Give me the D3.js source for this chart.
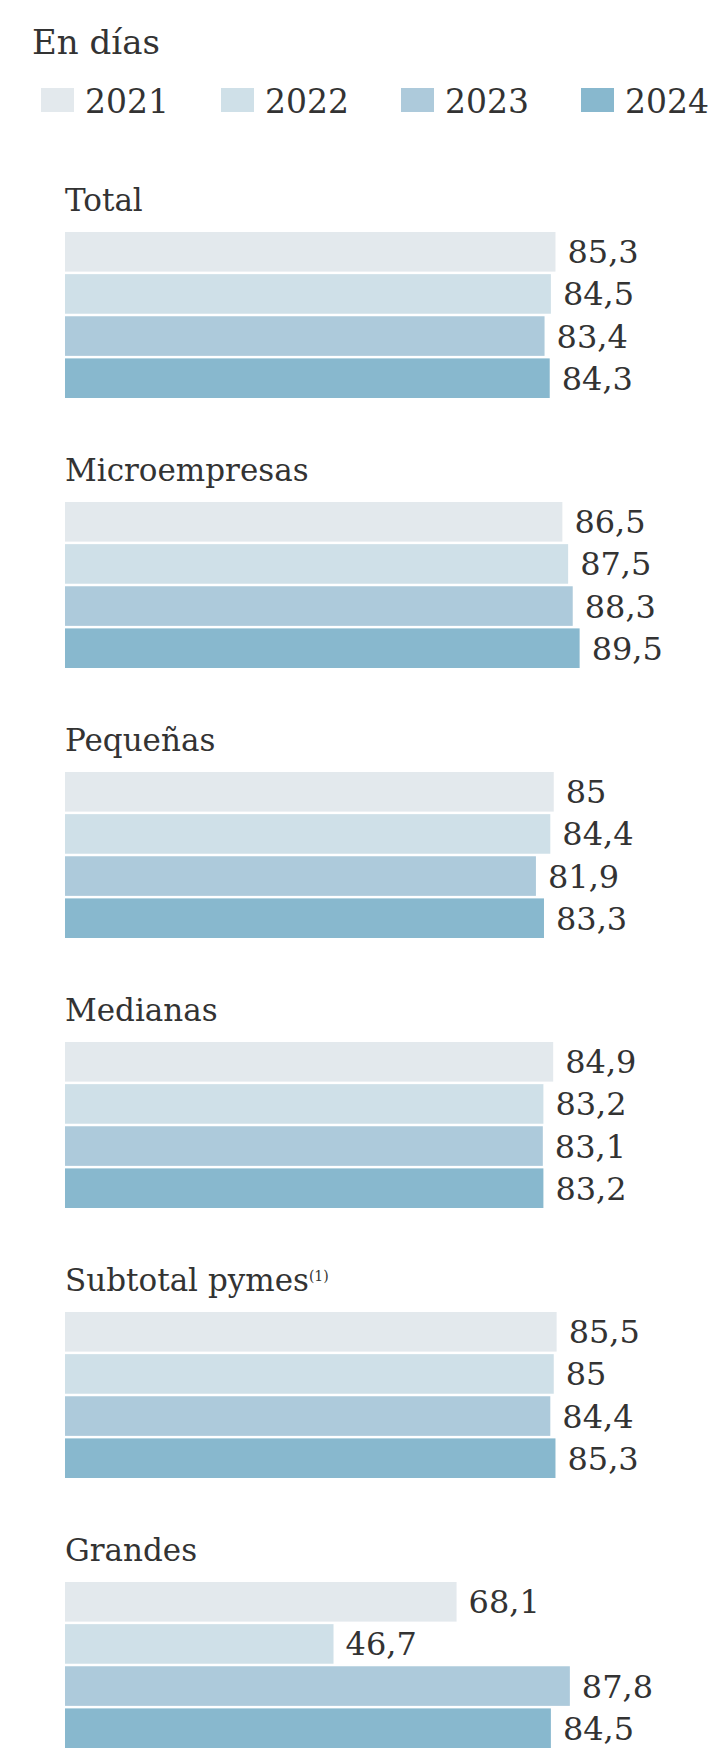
<!DOCTYPE html>
<html>
<head>
<meta charset="utf-8">
<script src="https://cdn.jsdelivr.net/npm/d3@7"></script>
<style>
  body { margin: 0; background: #fff; }
  svg text { font-family: "DejaVu Serif", "Liberation Serif", serif; fill: #333; }
</style>
</head>
<body>
<div id="chart"></div>
<script>
// data (days)
const years = ['2021', '2022', '2023', '2024'];
const categories = ['Total', 'Microempresas', 'Pequeñas', 'Medianas', 'Subtotal pymes', 'Grandes'];
const v2021 = [85.3, 86.5, 85, 84.9, 85.5, 68.1];
const v2022 = [84.5, 87.5, 84.4, 83.2, 85, 46.7];
const v2023 = [83.4, 88.3, 81.9, 83.1, 84.4, 87.8];
const v2024 = [84.3, 89.5, 83.3, 83.2, 85.3, 84.5];

const width = 711;
const height = 1749;
const colors = ['#e3e9ed', '#cfe0e8', '#adcadb', '#88b8ce'];

// build rows from the arrays
const series = [v2021, v2022, v2023, v2024];
const rows = [];
categories.forEach((c, i) => {
    years.forEach((yr, j) => {
        rows.push({cat: c, year: yr, value: series[j][i]});
    });
});

const fmt = v => String(v).replace('.', ',');

let svg = d3.select('#chart')
    .append('svg')
        .attr('width', width)
        .attr('height', height);

let x = d3.scaleLinear()
    .domain([0, 100])
    .range([65, 640]);

// each group: 270px step, bars start at band top
let yGroup = d3.scaleBand()
    .domain(categories)
    .range([232, 232 + 270 * categories.length]);

let yBar = d3.scaleBand()
    .domain(years)
    .range([0, 166])
    .paddingInner(0.06);

let color = d3.scaleOrdinal()
    .domain(years)
    .range(colors);

// header
svg.append('text')
    .text('En días')
    .attr('x', 32)
    .attr('y', 54)
    .style('font-size', '34px');

// legend
let legend = svg.selectAll('.legend')
    .data(years)
    .enter()
    .append('g')
        .attr('class', 'legend')
        .attr('transform', (d, i) => `translate(${85 + i * 180}, 0)`);

legend.append('rect')
    .attr('x', -44)
    .attr('y', 88)
    .attr('width', 33)
    .attr('height', 24)
    .attr('fill', d => color(d));

legend.append('text')
    .text(d => d)
    .attr('x', 0)
    .attr('y', 113)
    .style('font-size', '33px');

// group titles
let titles = svg.selectAll('.cat-title')
    .data(categories)
    .enter()
    .append('text')
        .attr('class', 'cat-title')
        .attr('x', 65)
        .attr('y', d => yGroup(d) - 21)
        .style('font-size', '31px');

titles.append('tspan').text(d => d);
titles.filter(d => d === 'Subtotal pymes')
    .append('tspan')
        .text('(1)')
        .attr('dy', '-0.7em')
        .style('font-size', '14px');

// bars
svg.selectAll('.bar')
    .data(rows)
    .enter()
    .append('rect')
        .attr('class', 'bar')
        .attr('x', x(0))
        .attr('y', d => yGroup(d.cat) + yBar(d.year))
        .attr('width', d => x(d.value) - x(0))
        .attr('height', yBar.bandwidth())
        .attr('fill', d => color(d.year));

// value labels
svg.selectAll('.val')
    .data(rows)
    .enter()
    .append('text')
        .attr('class', 'val')
        .text(d => fmt(d.value))
        .attr('x', d => x(d.value) + 12)
        .attr('y', d => yGroup(d.cat) + yBar(d.year) + yBar.bandwidth() / 2)
        .attr('dy', '0.36em')
        .style('font-size', '32px');
</script>
</body>
</html>
